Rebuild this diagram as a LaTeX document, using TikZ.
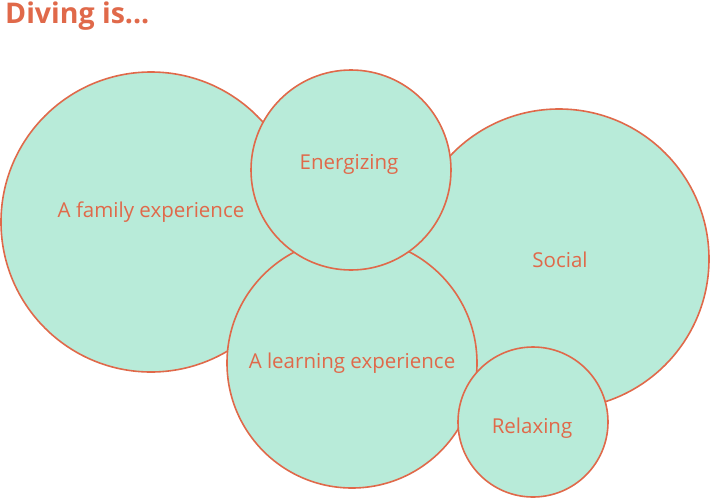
\documentclass[tikz,border=0pt]{standalone}
\usepackage{fontspec}
\setmainfont{Open Sans}
\definecolor{ring}{HTML}{E0694A}
\definecolor{bub}{HTML}{B8EBD9}
\begin{document}
\begin{tikzpicture}[x=1pt,y=-1pt,
  bubble/.style={circle,draw=ring,fill=bub,line width=1.6pt,inner sep=0pt},
  lbl/.style={text=ring,font=\fontsize{20.5}{24}\selectfont,anchor=center}]
\useasboundingbox (0,0) rectangle (710,499);
\node[bubble,minimum size=300pt] (fam) at (151,222) {};
\node[bubble,minimum size=300pt] (soc) at (559,259) {};
\node[bubble,minimum size=250pt] (lrn) at (352,363) {};
\node[bubble,minimum size=200pt] (ene) at (351,170) {};
\node[bubble,minimum size=150pt] (rel) at (533,422) {};
\node[lbl] (tfam) at (151,212) {A family experience};
\node[lbl] (tene) at (349,164) {Energizing};
\node[lbl] (tsoc) at (560,260) {Social};
\node[lbl] (tlrn) at (352,363) {A learning experience};
\node[lbl] (trel) at (532,428) {Relaxing};
\node[text=ring,font=\fontsize{28.5}{32}\selectfont\bfseries,anchor=base west,inner sep=0pt] (title) at (5,23) {Diving is...};
\end{tikzpicture}
\end{document}
